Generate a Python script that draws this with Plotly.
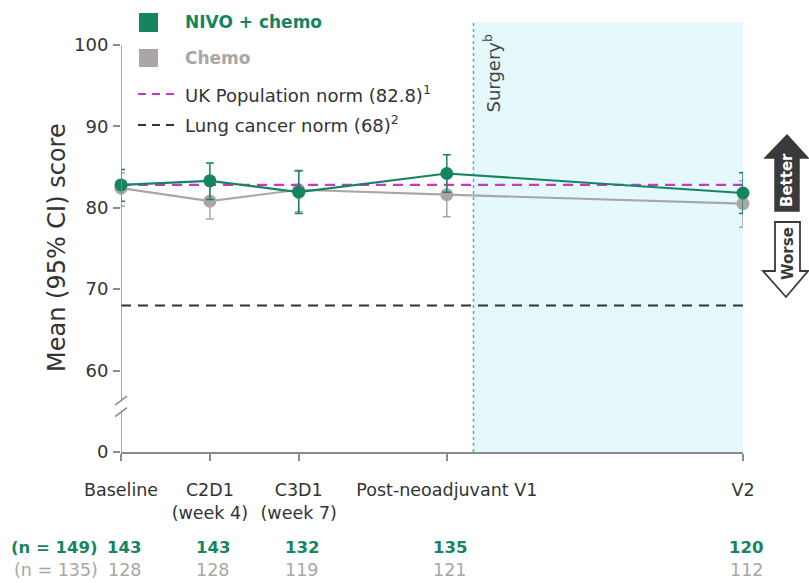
import plotly.graph_objects as go

# ---------------- data ----------------
timepoints = ["Baseline", "C2D1<br>(week 4)", "C3D1<br>(week 7)", "Post-neoadjuvant V1", "V2"]
x_pos = [0, 3, 6, 11, 21]           # relative timeline position
surgery_x = 11.9

nivo_mean = [82.8, 83.3, 81.9, 84.2, 81.8]
nivo_upper = [84.7, 85.5, 84.5, 86.5, 84.3]
nivo_lower = [80.8, 81.0, 79.3, 81.9, 79.3]

chemo_mean = [82.4, 80.8, 82.2, 81.6, 80.5]
chemo_upper = [84.3, 83.0, 84.6, 84.1, 83.3]
chemo_lower = [80.2, 78.6, 79.5, 78.9, 77.6]

uk_norm = 82.8
lung_norm = 68

nivo_n = [143, 143, 132, 135, 120]
chemo_n = [128, 128, 119, 121, 112]
nivo_total = 149
chemo_total = 135

y_ticks = [50, 60, 70, 80, 90, 100]
y_ticktext = ["0", "60", "70", "80", "90", "100"]

# ---------------- style ----------------
GREEN = "#16855f"
GRAY = "#aaa6a6"
MAGENTA = "#c838c8"
DARK = "#333333"
AXIS = "#8c8c8c"
FONT = "DejaVu Sans"

W, H = 809, 583
L, R, T, B = 121, 743, 22, 452


def px(xp):
    return (xp - L) / (R - L)


def py(yp):
    return (B - yp) / (B - T)


fig = go.Figure()

# chemo series
fig.add_trace(go.Scatter(
    x=x_pos, y=chemo_mean, mode="lines+markers",
    line=dict(color=GRAY, width=2.2),
    marker=dict(color=GRAY, size=13),
    error_y=dict(type="data", symmetric=False,
                 array=[u - m for u, m in zip(chemo_upper, chemo_mean)],
                 arrayminus=[m - l for m, l in zip(chemo_mean, chemo_lower)],
                 color=GRAY, thickness=1.5, width=4),
    cliponaxis=False, showlegend=False, name="Chemo"))

# reference norms
fig.add_trace(go.Scatter(
    x=[x_pos[0], x_pos[-1]], y=[uk_norm, uk_norm], mode="lines",
    line=dict(color=MAGENTA, width=2.2, dash="10px,7px"),
    showlegend=False, hoverinfo="skip"))
fig.add_trace(go.Scatter(
    x=[x_pos[0], x_pos[-1]], y=[lung_norm, lung_norm], mode="lines",
    line=dict(color=DARK, width=2, dash="10px,7px"),
    showlegend=False, hoverinfo="skip"))

# nivo series
fig.add_trace(go.Scatter(
    x=x_pos, y=nivo_mean, mode="lines+markers",
    line=dict(color=GREEN, width=2.2),
    marker=dict(color=GREEN, size=13),
    error_y=dict(type="data", symmetric=False,
                 array=[u - m for u, m in zip(nivo_upper, nivo_mean)],
                 arrayminus=[m - l for m, l in zip(nivo_mean, nivo_lower)],
                 color=GREEN, thickness=1.5, width=4),
    cliponaxis=False, showlegend=False, name="NIVO + chemo"))

shapes = []
# post-surgery shaded region
shapes.append(dict(type="rect", xref="x", yref="paper", x0=surgery_x, x1=x_pos[-1],
                   y0=0, y1=1, fillcolor="#e5f9fc", line=dict(width=0), layer="below"))
shapes.append(dict(type="line", xref="x", yref="paper", x0=surgery_x, x1=surgery_x,
                   y0=0, y1=1, line=dict(color="#3fb8cf", width=1.5, dash="dot"),
                   layer="below"))
# y-axis line with break
shapes.append(dict(type="line", xref="x", yref="y", x0=0, x1=0, y0=50, y1=54.9,
                   line=dict(color=AXIS, width=1.5)))
shapes.append(dict(type="line", xref="x", yref="y", x0=0, x1=0, y0=56.2, y1=100,
                   line=dict(color=AXIS, width=1.5)))
for yb in (54.9, 56.3):
    shapes.append(dict(type="line", xref="paper", yref="y",
                       x0=px(L - 6), x1=px(L + 6), y0=yb - 0.55, y1=yb + 0.55,
                       line=dict(color=AXIS, width=1.5)))

# legend keys
shapes.append(dict(type="rect", xref="paper", yref="paper", x0=px(139), x1=px(158),
                   y0=py(32), y1=py(13), fillcolor=GREEN, line=dict(width=0)))
shapes.append(dict(type="rect", xref="paper", yref="paper", x0=px(139), x1=px(158),
                   y0=py(67), y1=py(49), fillcolor=GRAY, line=dict(width=0)))
shapes.append(dict(type="line", xref="paper", yref="paper", x0=px(138), x1=px(178),
                   y0=py(94), y1=py(94), line=dict(color=MAGENTA, width=2, dash="8px,6px")))
shapes.append(dict(type="line", xref="paper", yref="paper", x0=px(138), x1=px(178),
                   y0=py(125), y1=py(125), line=dict(color=DARK, width=2, dash="8px,6px")))


def path(points):
    return "M " + " L ".join(f"{px(a):.5f},{py(b):.5f}" for a, b in points) + " Z"


# Better arrow (up, filled)
better = [(787, 135), (808, 158), (799, 158), (799, 211), (775, 211), (775, 158), (765, 158)]
shapes.append(dict(type="path", xref="paper", yref="paper", path=path(better),
                   fillcolor="#3a3a3a", line=dict(color="#3a3a3a", width=1.5)))
# Worse arrow (down, outline)
worse = [(775, 222), (800, 222), (800, 271), (808, 271), (786, 297), (763, 271), (775, 271)]
shapes.append(dict(type="path", xref="paper", yref="paper", path=path(worse),
                   fillcolor="white", line=dict(color="#3a3a3a", width=1.8)))

annotations = []
# legend texts
leg = [("<b>NIVO + chemo</b>", GREEN, 22, 17),
       ("<b>Chemo</b>", GRAY, 58, 17),
       ("UK Population norm (82.8)<sup>1</sup>", DARK, 94, 18),
       ("Lung cancer norm (68)<sup>2</sup>", DARK, 124, 18)]
for txt, col, yp, fs in leg:
    annotations.append(dict(text=txt, xref="paper", yref="paper", x=px(183), y=py(yp),
                            xanchor="left", yanchor="middle", showarrow=False,
                            font=dict(size=fs, color=col, family=FONT)))

# y-axis title
annotations.append(dict(text="Mean (95% CI) score", xref="paper", yref="paper",
                        x=px(57), y=py(248), xanchor="center", yanchor="middle",
                        textangle=-90, showarrow=False,
                        font=dict(size=24, color=DARK, family=FONT)))

annotations.append(dict(text="Surgery<sup>b</sup>", xref="x", yref="paper",
                        x=surgery_x, xshift=19, y=py(32), yanchor="top", xanchor="center",
                        textangle=-90, showarrow=False,
                        font=dict(size=18, color="#444444", family=FONT)))
annotations.append(dict(text="<b>Better</b>", xref="paper", yref="paper",
                        x=px(787), y=py(180), xanchor="center", yanchor="middle",
                        textangle=-90, showarrow=False,
                        font=dict(size=15, color="white", family=FONT)))
annotations.append(dict(text="<b>Worse</b>", xref="paper", yref="paper",
                        x=px(788), y=py(254), xanchor="center", yanchor="middle",
                        textangle=-90, showarrow=False,
                        font=dict(size=15, color="#3a3a3a", family=FONT)))

# n at risk rows
annotations.append(dict(text=f"<b>(n = {nivo_total})</b>", xref="paper", yref="paper",
                        x=px(100), y=py(547), xanchor="right", yanchor="middle",
                        showarrow=False, font=dict(size=16.5, color=GREEN, family=FONT)))
annotations.append(dict(text=f"(n = {chemo_total})", xref="paper", yref="paper",
                        x=px(100), y=py(570), xanchor="right", yanchor="middle",
                        showarrow=False, font=dict(size=17.5, color=GRAY, family=FONT)))
for xv, n1, n2 in zip(x_pos, nivo_n, chemo_n):
    annotations.append(dict(text=f"<b>{n1}</b>", xref="x", yref="paper", x=xv, y=py(547),
                            xshift=3, xanchor="center", yanchor="middle", showarrow=False,
                            font=dict(size=16.5, color=GREEN, family=FONT)))
    annotations.append(dict(text=f"{n2}", xref="x", yref="paper", x=xv, y=py(570),
                            xshift=3, xanchor="center", yanchor="middle", showarrow=False,
                            font=dict(size=17.5, color=GRAY, family=FONT)))

fig.update_layout(
    width=W, height=H,
    margin=dict(l=L, r=W - R, t=T, b=H - B),
    paper_bgcolor="white", plot_bgcolor="white",
    font=dict(family=FONT, size=17, color=DARK),
    shapes=shapes, annotations=annotations,
    xaxis=dict(range=[0, 21], tickvals=x_pos, ticktext=timepoints,
               showline=True, linecolor=AXIS, linewidth=1.5,
               ticks="outside", ticklen=7, tickcolor=AXIS, tickwidth=1.5,
               showgrid=False, zeroline=False, fixedrange=True,
               ticklabelstandoff=14,
               tickfont=dict(size=17.5, color=DARK, family=FONT)),
    yaxis=dict(range=[50, 102.8], tickvals=y_ticks, ticktext=y_ticktext,
               showline=False, ticks="outside", ticklen=7, tickcolor=AXIS, tickwidth=1.5,
               showgrid=False, zeroline=False, fixedrange=True,
               ticklabelstandoff=1,
               tickfont=dict(size=18, color=DARK, family=FONT)),
)

fig.write_html("out.html")
